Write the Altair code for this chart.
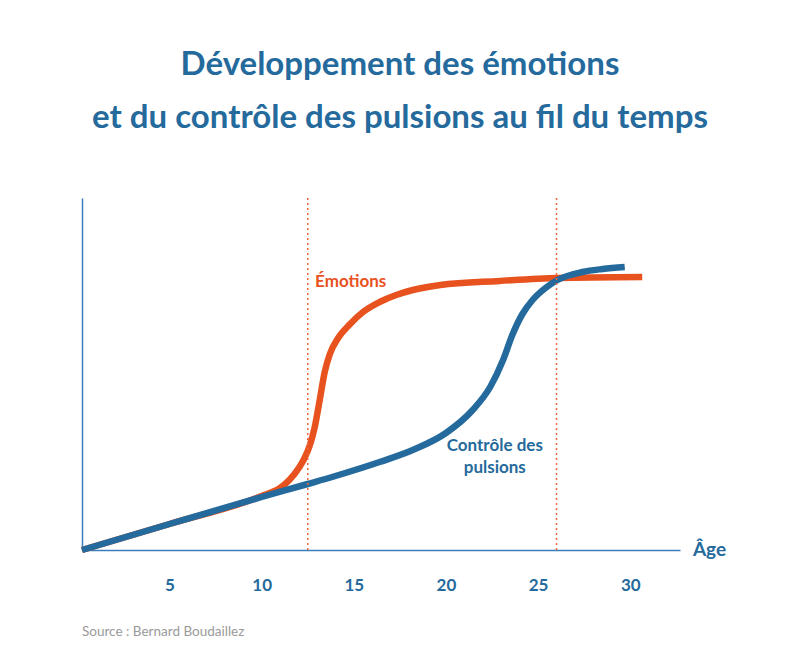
import altair as alt
import pandas as pd

# ---- data ----
blue_age = [0.25, 5.0, 10.0, 12.5, 14.0, 16.4, 18.2, 20.0, 21.45, 22.4, 23.1, 23.6, 24.15, 24.7, 25.4, 26.05, 27.4, 28.5, 29.7]
blue_val = [0, 26, 53, 66, 74, 88, 100, 117, 140, 163, 190, 215, 236, 250, 262, 270, 278, 281, 283]

orange_age = [0.25, 5.0, 9.5, 10.0, 11.0, 11.5, 12.05, 12.3, 12.6, 12.88, 13.15, 13.42, 13.7, 14.15, 14.8, 15.5, 16.4, 17.3, 18.2, 19.7, 22.9, 26.05, 30.65]
orange_val = [0, 26, 50.5, 54, 62, 70, 83, 91, 104, 123, 150, 178, 196, 212, 226, 238, 248, 255, 260, 265, 269, 272, 273]

marker_ages = [12.5, 26.0]
tick_values = [5, 10, 15, 20, 25, 30]

title_lines = ["Développement des émotions", "et du contrôle des pulsions au fil du temps"]
source_text = "Source : Bernard Boudaillez"

BLUE = "#256a9c"
ORANGE = "#e8521f"
AXIS = "#3b7dbd"
FONT = "Lato, Roboto, sans-serif"

df_blue = pd.DataFrame({"age": blue_age, "val": blue_val})
df_orange = pd.DataFrame({"age": orange_age, "val": orange_val})
df_mark = pd.DataFrame({"age": marker_ages})

xs = alt.Scale(domain=[0.25, 32.7], nice=False, zero=False)
ys = alt.Scale(domain=[0, 352], nice=False)

x_axis = alt.Axis(values=tick_values, grid=False, ticks=False, domainColor=AXIS, domainWidth=1.5,
                  labelColor=BLUE, labelFont=FONT, labelFontWeight="bold", labelFontSize=17,
                  labelPadding=27, title=None)
y_axis = alt.Axis(grid=False, ticks=False, labels=False, domainColor=AXIS, domainWidth=1.5, title=None)

base_x = alt.X("age:Q", scale=xs, axis=x_axis)
base_y = alt.Y("val:Q", scale=ys, axis=y_axis)

orange = alt.Chart(df_orange).mark_line(color=ORANGE, strokeWidth=6.5, interpolate="monotone", strokeCap="butt").encode(
    x=base_x, y=base_y)
blue = alt.Chart(df_blue).mark_line(color=BLUE, strokeWidth=6.5, interpolate="monotone", strokeCap="butt").encode(
    x="age:Q", y="val:Q")

rules = alt.Chart(df_mark).mark_rule(color="#f0643c", strokeDash=[2, 3], strokeWidth=1.5).encode(x="age:Q")

df_lab = pd.DataFrame({
    "age": [12.9, 22.65, 33.4],
    "val": [268, 104, 0],
    "txt": ["Émotions", "Contrôle des\npulsions", "Âge"],
})
lab_emo = alt.Chart(df_lab.iloc[[0]]).mark_text(font=FONT, fontWeight="bold", fontSize=17, color=ORANGE,
                                                 align="left", baseline="middle").encode(x="age:Q", y="val:Q", text="txt:N")
lab_ctrl = alt.Chart(df_lab.iloc[[1]]).mark_text(font=FONT, fontWeight="bold", fontSize=17, color=BLUE,
                                                  align="center", baseline="middle", lineBreak="\n", lineHeight=22).encode(
    x="age:Q", y="val:Q", text="txt:N")
lab_age = alt.Chart(df_lab.iloc[[2]]).mark_text(font=FONT, fontWeight="bold", fontSize=19, color=BLUE,
                                                 align="left", baseline="middle").encode(x="age:Q", y="val:Q", text="txt:N")

src = alt.Chart(pd.DataFrame({"t": [source_text]})).mark_text(
    font="Lato, Open Sans, sans-serif", fontSize=13.5, color="#9a9a9a", align="left", baseline="middle").encode(
    x=alt.value(0), y=alt.value(434), text="t:N")

chart = alt.layer(orange, blue, rules, lab_emo, lab_ctrl, lab_age, src).properties(
    width=598, height=352,
    title=alt.TitleParams(text=title_lines, font=FONT, fontSize=33, fontWeight="bold", color=BLUE,
                          anchor="middle", frame="group", dx=19, offset=62, lineHeight=53),
    padding={"left": 74, "top": 190, "right": 112, "bottom": 96},
    autosize=alt.AutoSizeParams(type="none"),
).configure_view(strokeWidth=0)

chart.save("out.html", embed_options={"renderer": "svg", "actions": False})
